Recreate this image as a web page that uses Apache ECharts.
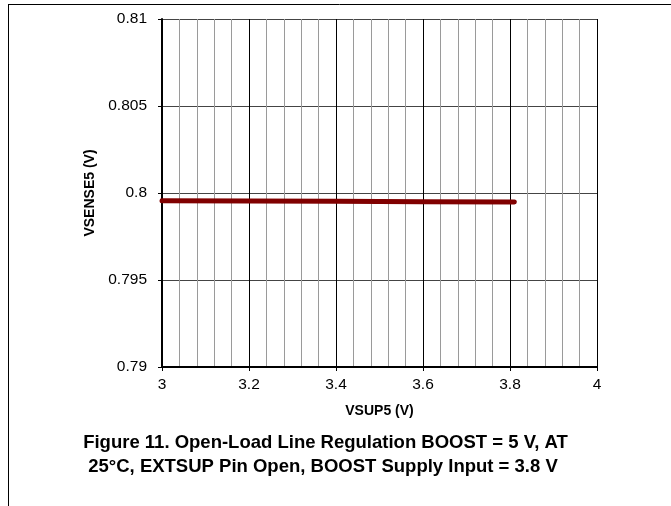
<!DOCTYPE html>
<html>
<head>
<meta charset="utf-8">
<script src="https://cdn.jsdelivr.net/npm/echarts@6/dist/echarts.min.js"></script>
<style>
html,body{margin:0;padding:0;background:#fff;}
#c{width:671px;height:506px;}
</style>
</head>
<body>
<div id="c"></div>
<script>
const xValues = [3.0, 3.2, 3.4, 3.6, 3.81];
const vsense = [0.79956, 0.79954, 0.79952, 0.7995, 0.79948];
const xTitle = 'VSUP5 (V)';
const yTitle = 'VSENSE5 (V)';
const captionLines = ['Figure 11. Open-Load Line Regulation BOOST = 5 V, AT', '25°C, EXTSUP Pin Open, BOOST Supply Input = 3.8 V'];

const font = '"Liberation Sans", Arial, sans-serif';
const chart = echarts.init(document.getElementById('c'), null, {renderer: 'canvas'});
chart.setOption({
  animation: false,
  backgroundColor: '#fff',
  grid: {left: 162, top: 19, width: 435, height: 348, containLabel: false},
  xAxis: {
    type: 'value', min: 3, max: 4, interval: 0.2,
    name: xTitle, nameLocation: 'middle', nameGap: 37,
    nameTextStyle: {fontFamily: font, fontWeight: 'bold', fontSize: 14, color: '#000'},
    axisLine: {show: true, onZero: false, lineStyle: {color: '#000', width: 2}},
    axisTick: {show: true, length: 4, lineStyle: {color: '#000'}},
    axisLabel: {fontFamily: font, fontSize: 15.5, color: '#000', margin: 10,
      formatter: v => String(Math.round(v * 10) / 10)},
    splitLine: {show: true, lineStyle: {color: '#000', width: 1}},
    minorTick: {show: false, splitNumber: 5},
    minorSplitLine: {show: true, lineStyle: {color: '#9a9a9a', width: 1}}
  },
  yAxis: {
    type: 'value', min: 0.79, max: 0.81, interval: 0.005,
    name: yTitle, nameLocation: 'middle', nameGap: 57, nameRotate: 90,
    nameTextStyle: {fontFamily: font, fontWeight: 'bold', fontSize: 14, color: '#000'},
    axisLine: {show: true, lineStyle: {color: '#000', width: 2}},
    axisTick: {show: true, length: 4, lineStyle: {color: '#000'}},
    axisLabel: {fontFamily: font, fontSize: 15.5, color: '#000', margin: 15,
      formatter: v => String(Math.round(v * 1000) / 1000)},
    splitLine: {show: true, lineStyle: {color: '#444', width: 1}}
  },
  series: [{
    type: 'line',
    data: xValues.map((x, i) => [x, vsense[i]]),
    showSymbol: false,
    lineStyle: {color: '#800000', width: 5, cap: 'round'},
    z: 5
  }],
  graphic: [
    {type: 'line', shape: {x1: 8, y1: 4.5, x2: 671, y2: 4.5}, style: {stroke: '#000', lineWidth: 1}},
    {type: 'line', shape: {x1: 8.5, y1: 4, x2: 8.5, y2: 506}, style: {stroke: '#000', lineWidth: 1}},
    {type: 'text', x: 325.5, y: 443, style: {text: captionLines[0], fill: '#000', font: 'bold 18.5px ' + font, textAlign: 'center', textVerticalAlign: 'middle'}},
    {type: 'text', x: 323, y: 467, style: {text: captionLines[1], fill: '#000', font: 'bold 18.5px ' + font, textAlign: 'center', textVerticalAlign: 'middle'}}
  ]
});
</script>
</body>
</html>
